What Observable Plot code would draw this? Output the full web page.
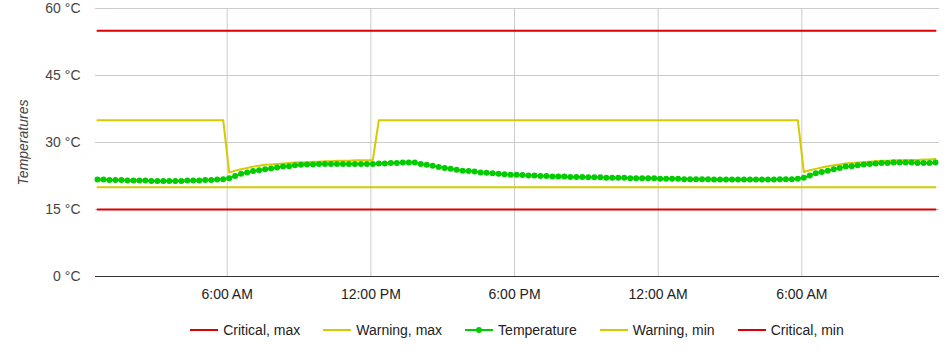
<!DOCTYPE html>
<html><head><meta charset="utf-8">
<script src="https://cdn.jsdelivr.net/npm/d3@7"></script>
<script src="https://cdn.jsdelivr.net/npm/@observablehq/plot@0.6"></script>
<style>
body{margin:0;background:#fff;font-family:Arial,"Liberation Sans",sans-serif;}
#chart svg{display:block}
g[aria-label="y-axis label"] text{font-style:italic}
.legend{display:flex;justify-content:center;padding-left:95px;padding-right:9px;margin-top:12px;font-size:14px;color:#222;line-height:16px}
.item{display:flex;align-items:center;margin:0 11.5px}
.sw{width:28px;height:16px;margin-right:5px;display:block}
</style></head>
<body><div id="chart"></div><div class="legend" id="legend"></div>
<script>
// sampling: every 15 minutes from 00:35 (day 1) to 11:35 (day 2)
const sampleStart = new Date(2020, 0, 1, 0, 35);
const sampleStepMinutes = 15;
const axisStart = new Date(2020, 0, 1, 0, 30);
const axisEnd = new Date(2020, 0, 2, 11, 45);

const temperature = [
  21.7,21.7,21.6,21.6,21.6,21.5,21.5,21.5,21.5,21.4,21.4,21.4,21.4,21.4,21.4,21.5,21.5,21.5,21.6,21.6,21.7,21.8,
  22.0,22.5,23.0,23.3,23.6,23.8,24.0,24.2,24.4,24.6,24.7,24.9,25.0,25.1,25.1,25.2,25.2,25.2,25.2,25.2,25.2,25.2,25.2,25.2,25.2,
  25.3,25.3,25.4,25.4,25.5,25.5,25.5,
  25.2,25.0,24.8,24.5,24.3,24.1,23.9,23.7,23.6,23.5,23.3,23.2,23.1,23.0,22.9,22.8,22.8,22.7,22.6,22.6,
  22.5,22.5,22.4,22.4,22.4,22.3,22.3,22.3,22.2,22.2,22.2,22.1,22.1,22.1,22.1,22.0,22.0,22.0,22.0,22.0,21.9,21.9,21.9,
  21.9,21.8,21.8,21.8,21.8,21.8,21.7,21.7,21.7,21.7,21.7,21.7,21.7,21.7,21.7,21.7,21.7,21.8,21.8,21.8,21.9,
  22.1,22.6,23.1,23.4,23.7,24.0,24.3,24.6,24.7,24.9,25.1,25.2,25.3,25.4,25.4,25.5,25.5,25.5,25.5,25.4,25.4,25.4,25.5
];
const warningMax = [
  35,35,35,35,35,35,35,35,35,35,35,35,35,35,35,35,35,35,35,35,35,35,
  23.3,23.7,24.0,24.3,24.6,24.8,25.0,25.1,25.2,25.3,25.4,25.5,25.6,25.6,25.7,25.7,25.8,25.8,25.9,25.9,25.9,26.0,26.0,26.0,26.1,
  35,35,35,35,35,35,35,35,35,35,
  35,35,35,35,35,35,35,35,35,35,
  35,35,35,35,35,35,35,35,35,35,
  35,35,35,35,35,35,35,35,35,35,
  35,35,35,35,35,35,35,35,35,35,
  35,35,35,35,35,35,35,35,35,35,
  35,35,35,35,35,35,35,35,35,35,
  35,
  23.4,23.8,24.1,24.4,24.7,24.9,25.1,25.3,25.4,25.5,25.6,25.7,25.8,25.9,25.9,26.0,26.0,26.1,26.1,26.1,26.2,26.2,26.3
];
const criticalMax = 55;
const warningMin = 20;
const criticalMin = 15;
const yTicks = [0, 15, 30, 45, 60];
const seriesNames = ["Critical, max", "Warning, max", "Temperature", "Warning, min", "Critical, min"];
const seriesColors = ["#dc0000", "#d4cc00", "#00cc00", "#d4cc00", "#dc0000"];

const rows = temperature.map((v, i) => ({
  t: d3.timeMinute.offset(sampleStart, i * sampleStepMinutes),
  temp: v,
  wmax: warningMax[i]
}));
const xTicks = d3.timeHour.every(6).range(axisStart, axisEnd);

const chart = Plot.plot({
  width: 948, height: 310,
  marginLeft: 95, marginRight: 9, marginTop: 8, marginBottom: 34,
  style: {fontFamily: "Arial, 'Liberation Sans', sans-serif", fontSize: "14px", color: "#333", background: "#fff"},
  x: {type: "time", domain: [axisStart, axisEnd]},
  y: {domain: [0, 60]},
  marks: [
    Plot.gridY([15, 30, 45, 60], {stroke: "#ccc", strokeOpacity: 1}),
    Plot.gridX(xTicks, {stroke: "#ccc", strokeOpacity: 1}),
    Plot.ruleY([0], {stroke: "#333"}),
    Plot.axisY(yTicks, {tickSize: 0, tickPadding: 15, tickFormat: d => d + " °C", label: "Temperatures", labelAnchor: "center", labelArrow: "none", labelOffset: 77, fill: "#444"}),
    Plot.axisX(xTicks, {tickSize: 0, tickPadding: 13, tickFormat: d3.timeFormat("%-I:%M %p"), label: null, fill: "#222"}),
    Plot.line(rows, {x: "t", y: () => criticalMax, stroke: seriesColors[0], strokeWidth: 2}),
    Plot.line(rows, {x: "t", y: "wmax", stroke: seriesColors[1], strokeWidth: 2}),
    Plot.line(rows, {x: "t", y: "temp", stroke: seriesColors[2], strokeWidth: 2}),
    Plot.dot(rows, {x: "t", y: "temp", fill: seriesColors[2], r: 3}),
    Plot.line(rows, {x: "t", y: () => warningMin, stroke: seriesColors[3], strokeWidth: 2}),
    Plot.line(rows, {x: "t", y: () => criticalMin, stroke: seriesColors[4], strokeWidth: 2})
  ]
});
document.getElementById("chart").appendChild(chart);

const legend = document.getElementById("legend");
seriesNames.forEach((name, i) => {
  const item = document.createElement("div");
  item.className = "item";
  const dot = name === "Temperature" ? `<circle cx="14" cy="8" r="3" fill="${seriesColors[i]}"/>` : "";
  item.innerHTML = `<svg class="sw" viewBox="0 0 28 16"><line x1="0" x2="28" y1="8" y2="8" stroke="${seriesColors[i]}" stroke-width="2"/>${dot}</svg><span>${name}</span>`;
  legend.appendChild(item);
});
</script>
</body></html>
